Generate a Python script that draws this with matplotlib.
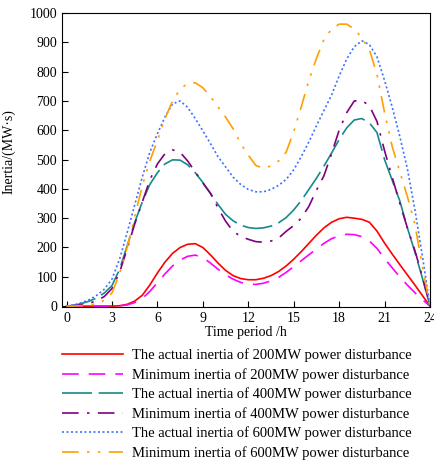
import numpy as np
import matplotlib
matplotlib.use("Agg")
import matplotlib.pyplot as plt

plt.rcParams['font.family'] = ['Liberation Serif', 'DejaVu Serif']

# half-hour steps over one day
hours = [i * 0.5 for i in range(49)]

# inertia values (MW*s)
actual_200 = [0, 0, 0, 0, 0, 0, 0, 1, 6, 17, 37, 72, 113, 150, 180, 200, 211, 213, 200, 175, 147, 122, 104, 94, 90,
              90, 95, 104, 118, 137, 160, 186, 214, 242, 267, 286, 298, 303, 300, 296, 286, 256, 215, 178, 142, 107, 72, 36, 0]
min_200 = [0, 0, 0, 0, 0, 0, 0, 1, 4, 12, 26, 50, 80, 110, 137, 157, 170, 174, 166, 147, 126, 107, 92, 81, 75,
           74, 78, 86, 98, 115, 135, 155, 175, 195, 214, 230, 240, 245, 244, 237, 222, 197, 162, 131, 100, 72, 46, 22, 0]
actual_400 = [0, 3, 9, 17, 28, 45, 70, 125, 205, 285, 355, 415, 455, 485, 499, 498, 482, 455, 422, 385, 347, 313, 291, 276, 268,
              265, 267, 273, 284, 302, 328, 360, 398, 436, 478, 522, 568, 608, 635, 640, 625, 592, 500, 430, 360, 268, 185, 95, 0]
min_400 = [0, 2, 5, 10, 18, 33, 60, 115, 195, 280, 355, 430, 485, 520, 533, 525, 495, 458, 420, 385, 335, 290, 255, 238, 228,
           220, 218, 222, 232, 255, 275, 300, 340, 395, 445, 520, 600, 660, 700, 702, 683, 630, 530, 440, 352, 268, 190, 100, 0]
actual_600 = [0, 4, 12, 22, 37, 58, 92, 160, 250, 345, 440, 525, 588, 645, 690, 700, 678, 640, 598, 555, 510, 475, 440, 415, 398,
              390, 390, 398, 412, 432, 465, 510, 560, 615, 668, 720, 785, 843, 885, 905, 892, 850, 770, 680, 580, 470, 330, 170, 0]
min_600 = [0, 0, 2, 4, 8, 20, 45, 110, 200, 305, 410, 495, 565, 640, 700, 740, 760, 762, 745, 715, 680, 645, 605, 555, 515,
           480, 470, 478, 495, 525, 595, 680, 770, 845, 910, 945, 962, 962, 945, 915, 875, 790, 660, 545, 460, 375, 280, 135, 0]

labels = ['The actual inertia of 200MW power disturbance',
          'Minimum inertia of 200MW power disturbance',
          'The actual inertia of 400MW power disturbance',
          'Minimum inertia of 400MW power disturbance',
          'The actual inertia of 600MW power disturbance',
          'Minimum inertia of 600MW power disturbance']

x_ticks = [0, 3, 6, 9, 12, 15, 18, 21, 24]
y_ticks = [0, 100, 200, 300, 400, 500, 600, 700, 800, 900, 1000]

fig = plt.figure(figsize=(4.35, 4.62), dpi=100)
ax = fig.add_axes([0.1425, 0.3355, 0.846, 0.6364])

lw = 1.2
ax.plot(hours, actual_200, color='#ff0000', lw=lw, label=labels[0])
ax.plot(hours, min_200, color='#ff00ff', lw=lw, dashes=(10, 6), label=labels[1])
ax.plot(hours, actual_400, color='#168a8a', lw=lw, dashes=(18, 4), label=labels[2])
ax.plot(hours, min_400, color='#800080', lw=lw, dashes=(10, 5, 1.5, 5), label=labels[3])
ax.plot(hours, actual_600, color='#3f6fff', lw=lw, dashes=(1.2, 1.5), label=labels[4])
ax.plot(hours, min_600, color='#ffa000', lw=lw, dashes=(10, 5, 1.5, 5, 1.5, 5), label=labels[5])

ax.set_xlim(-0.3, 24)
ax.set_ylim(-3, 1000)
ax.set_xticks(x_ticks)
ax.set_yticks(y_ticks)
ax.tick_params(direction='in', labelsize=10, length=4, width=0.8)
ax.set_xlabel('Time period /h', fontsize=10, labelpad=1)
ax.set_ylabel('Inertia/(MW·s)', fontsize=10)
ax.yaxis.set_label_coords(-0.125, 0.53)

ax.legend(loc='upper center', bbox_to_anchor=(0.475, -0.097), frameon=False,
          fontsize=10.5, handlelength=4.2, labelspacing=0.39, handletextpad=0.6)

fig.savefig('out.png', dpi=100)
